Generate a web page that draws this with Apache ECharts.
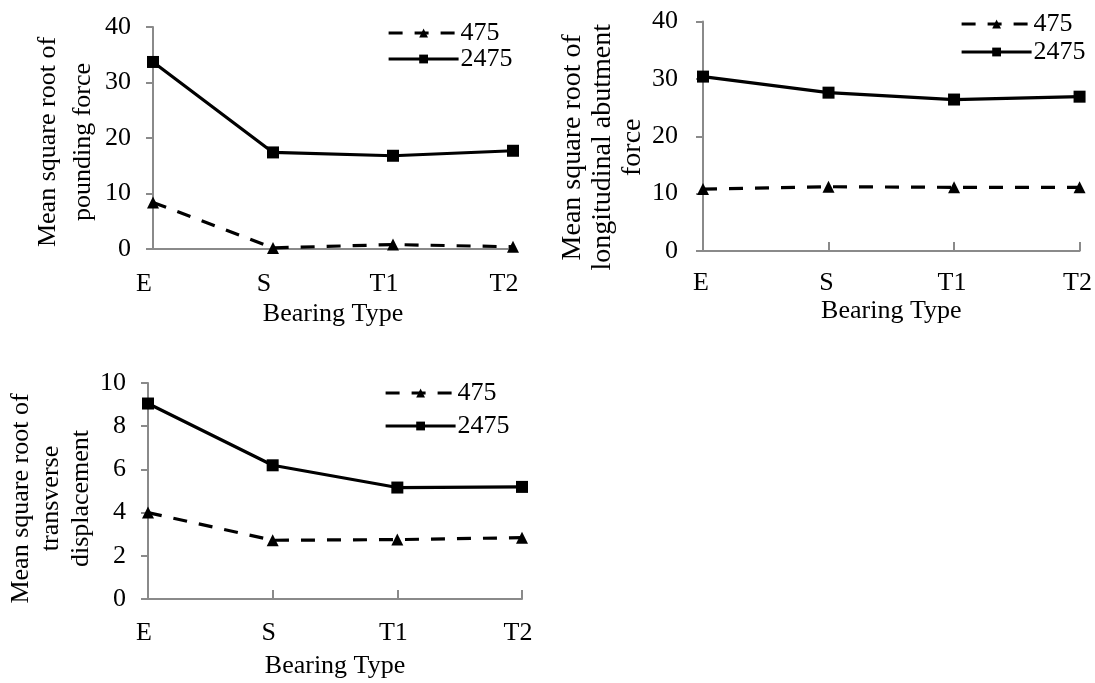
<!DOCTYPE html>
<html>
<head>
<meta charset="utf-8">
<script src="https://cdn.jsdelivr.net/npm/echarts@6/dist/echarts.min.js"></script>
<style>
  html, body { margin: 0; padding: 0; background: #fff; }
  #chart { width: 1095px; height: 683px; }
</style>
</head>
<body>
<div id="chart"></div>
<script>
// Bearing types on the category axis
const bearingTypes = ['E', 'S', 'T1', 'T2'];

// Return periods (years) used as series names
const seriesNames = ['475', '2475'];

// Mean square root of pounding force
const poundingForce475 = [8.4, 0.2, 0.8, 0.4];
const poundingForce2475 = [33.7, 17.4, 16.8, 17.7];

// Mean square root of longitudinal abutment force
const abutmentForce475 = [10.8, 11.2, 11.1, 11.1];
const abutmentForce2475 = [30.4, 27.6, 26.4, 26.9];

// Mean square root of transverse displacement
const transverseDisp475 = [4.0, 2.72, 2.75, 2.84];
const transverseDisp2475 = [9.05, 6.19, 5.16, 5.19];

// Value-axis ranges
const yMax = [40, 40, 10];
const yStep = [10, 10, 2];

const FONT = 'Liberation Serif';
const AXIS_GRAY = '#8a8a8a';

const panels = [
  { grid: { left: 153, top: 27, width: 360, height: 222 },
    yName: 'Mean square root of\npounding force', yNameSize: 26, yLineH: 35, yNameGap: 49, yShift: 8,
    xNameGap: 52, xLabelMargin: 22, xLabelShift: 18, xTicks: false, yLabelMargin: 22,
    legend: { left: 387, top: 20, itemGap: 0 } },
  { grid: { left: 703, top: 19, width: 378, height: 232 },
    yName: 'Mean square root of\nlongitudinal abutment\nforce', yNameSize: 28, yLineH: 30, yNameGap: 54, yShift: 22,
    xNameGap: 47, xLabelMargin: 19, xLabelShift: 4, xTicks: true, yLabelMargin: 25,
    legend: { left: 960, top: 11, itemGap: 2 } },
  { grid: { left: 148, top: 383, width: 374, height: 216 },
    yName: 'Mean square root of\ntransverse\ndisplacement', yNameSize: 26, yLineH: 30, yNameGap: 48, yShift: 15,
    xNameGap: 54, xLabelMargin: 21, xLabelShift: 8, xTicks: true, yLabelMargin: 22,
    legend: { left: 384, top: 380, itemGap: 7 } }
];

const dataSets = [
  [poundingForce475, poundingForce2475],
  [abutmentForce475, abutmentForce2475],
  [transverseDisp475, transverseDisp2475]
];

const grids = [], xAxes = [], yAxes = [], series = [], legends = [];

panels.forEach((p, i) => {
  grids.push(Object.assign({ containLabel: false }, p.grid));

  xAxes.push({
    type: 'category',
    gridIndex: i,
    data: bearingTypes,
    boundaryGap: false,
    name: 'Bearing Type',
    nameLocation: 'middle',
    nameGap: p.xNameGap,
    nameTextStyle: { fontFamily: FONT, fontSize: 26, color: '#000' },
    axisLine: { show: true, onZero: false, lineStyle: { color: AXIS_GRAY, width: 2 } },
    axisTick: { show: p.xTicks, inside: true, length: 9, alignWithLabel: true,
                lineStyle: { color: AXIS_GRAY, width: 2 } },
    axisLabel: { fontFamily: FONT, fontSize: 26, color: '#000', margin: p.xLabelMargin,
                 padding: [0, p.xLabelShift, 0, 0] },
    splitLine: { show: false }
  });

  yAxes.push({
    type: 'value',
    gridIndex: i,
    min: 0,
    max: yMax[i],
    interval: yStep[i],
    name: p.yName,
    nameLocation: 'middle',
    nameGap: p.yNameGap,
    nameTextStyle: { fontFamily: FONT, fontSize: p.yNameSize, lineHeight: p.yLineH, color: '#000',
                     padding: [0, p.yShift, 0, 0] },
    axisLine: { show: true, lineStyle: { color: AXIS_GRAY, width: 2 } },
    axisTick: { show: true, length: 7, lineStyle: { color: AXIS_GRAY, width: 2 } },
    axisLabel: { fontFamily: FONT, fontSize: 26, color: '#000', margin: p.yLabelMargin },
    splitLine: { show: false }
  });

  const [low, high] = dataSets[i];
  series.push({
    name: seriesNames[0],
    type: 'line',
    xAxisIndex: i,
    yAxisIndex: i,
    data: low,
    symbol: 'triangle',
    symbolSize: 12,
    itemStyle: { color: '#000' },
    lineStyle: { color: '#000', width: 3.2, type: [14, 12] },
    animation: false
  });
  series.push({
    name: seriesNames[1],
    type: 'line',
    xAxisIndex: i,
    yAxisIndex: i,
    data: high,
    symbol: 'rect',
    symbolSize: 12,
    itemStyle: { color: '#000' },
    lineStyle: { color: '#000', width: 3.2, type: 'solid' },
    animation: false
  });

  legends.push({
    data: seriesNames,
    orient: 'vertical',
    left: p.legend.left,
    top: p.legend.top,
    itemGap: p.legend.itemGap,
    itemWidth: 70,
    itemHeight: 11,
    padding: 0,
    selectedMode: false,
    lineStyle: { width: 3.2, color: '#000', type: 'inherit' },
    textStyle: { fontFamily: FONT, fontSize: 26, lineHeight: 25, color: '#000', padding: [0, 0, 0, -3] }
  });
});

const chart = echarts.init(document.getElementById('chart'), null, { renderer: 'canvas' });
chart.setOption({
  backgroundColor: '#fff',
  animation: false,
  grid: grids,
  xAxis: xAxes,
  yAxis: yAxes,
  legend: legends,
  series: series
});
</script>
</body>
</html>
